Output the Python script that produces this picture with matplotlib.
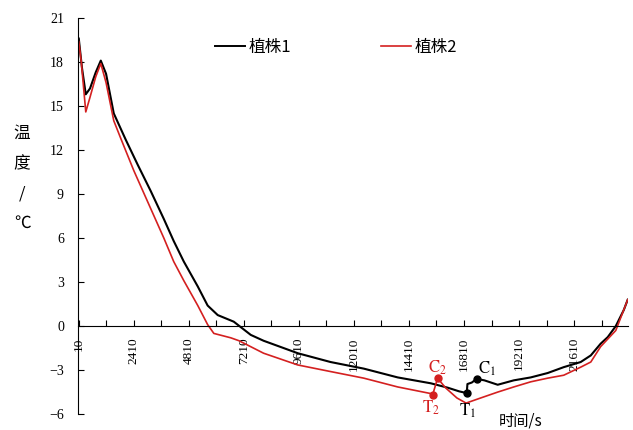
import matplotlib
matplotlib.use("Agg")
import matplotlib.pyplot as plt
from matplotlib.lines import Line2D

plt.rcParams['font.family'] = ['Noto Sans CJK SC', 'DejaVu Sans']
plt.rcParams['mathtext.fontset'] = 'stix'

# 时间 (s) 与温度 (℃)
t1 = [10, 150, 315, 500, 750, 970, 1200, 1536, 2060, 2580, 3150, 3720, 4150, 4590,
      5200, 5630, 6070, 6770, 7510, 8070, 9560, 10990, 12440, 13920, 15360, 16100,
      16600, 16930, 16960, 17150, 17360, 17700, 18280, 18980, 19720, 20460, 21160,
      21900, 22340, 22770, 23080, 23430, 23780, 23950]
y1 = [19.6, 17.6, 15.8, 16.2, 17.3, 18.1, 17.2, 14.5, 12.7, 11.0, 9.2, 7.3, 5.8,
      4.4, 2.7, 1.4, 0.75, 0.3, -0.6, -1.0, -1.85, -2.45, -2.9, -3.5, -3.9, -4.2,
      -4.45, -4.57, -3.95, -3.85, -3.6, -3.7, -4.0, -3.7, -3.5, -3.2, -2.8, -2.45,
      -2.0, -1.2, -0.75, 0.0, 1.1, 1.8]

t2 = [10, 120, 315, 500, 750, 970, 1200, 1536, 1840, 2410, 3150, 3720, 4150, 4590,
      5200, 5630, 5900, 6640, 7000, 8070, 9560, 10990, 12440, 13920, 15360, 15440,
      15660, 16000, 16500, 16900, 17540, 18280, 18980, 19720, 20460, 21160, 21900,
      22340, 22770, 23430, 23950]
y2 = [19.4, 18.0, 14.6, 15.6, 17.0, 17.9, 16.6, 14.0, 12.8, 10.6, 8.0, 6.0, 4.4,
      3.1, 1.4, 0.1, -0.5, -0.8, -1.0, -1.85, -2.65, -3.1, -3.55, -4.15, -4.6,
      -4.7, -3.55, -4.2, -4.9, -5.25, -4.9, -4.5, -4.15, -3.8, -3.55, -3.35, -2.8,
      -2.45, -1.4, -0.3, 1.8]

# 标记点
marks1 = {'T$_1$': (16930, -4.57), 'C$_1$': (17360, -3.6)}
marks2 = {'T$_2$': (15440, -4.7), 'C$_2$': (15660, -3.55)}

xticks = list(range(10, 23000, 1200))
yticks = list(range(-6, 22, 3))

red = '#d42020'

fig = plt.figure(figsize=(6.33, 4.3), dpi=100)
ax = fig.add_axes([0.123, 0.037, 0.869, 0.921])
ax.plot(t1, y1, color='black', lw=1.5)
ax.plot(t2, y2, color=red, lw=1.2)

for (lab, (x, y)) in marks1.items():
    ax.plot(x, y, 'o', color='black', ms=5)
for (lab, (x, y)) in marks2.items():
    ax.plot(x, y, 'o', color=red, ms=5)

ax.text(marks1['T$_1$'][0] + 50, marks1['T$_1$'][1] - 0.6, 'T$_1$', ha='center', va='top',
        fontsize=12, family='STIXGeneral', color='black')
ax.text(marks1['C$_1$'][0] + 50, marks1['C$_1$'][1] + 0.05, 'C$_1$', ha='left', va='bottom',
        fontsize=12, family='STIXGeneral', color='black')
ax.text(marks2['T$_2$'][0] - 80, marks2['T$_2$'][1] - 0.25, 'T$_2$', ha='center', va='top',
        fontsize=12, family='STIXGeneral', color=red)
ax.text(marks2['C$_2$'][0], marks2['C$_2$'][1] + 0.1, 'C$_2$', ha='center', va='bottom',
        fontsize=12, family='STIXGeneral', color=red)

ax.set_xlim(-30, 23960)
ax.set_ylim(-6, 21)
ax.spines['top'].set_visible(False)
ax.spines['right'].set_visible(False)
ax.spines['bottom'].set_position(('data', 0))
ax.spines['left'].set_bounds(-6, 21)

ax.set_xticks(xticks)
ax.set_xticklabels([str(v) if i % 2 == 0 else '' for i, v in enumerate(xticks)],
                   rotation=90, family='Liberation Serif', fontsize=9.5)
ax.set_yticks(yticks)
ax.set_yticklabels([str(v).replace('-', '−') for v in yticks], family='Liberation Serif', fontsize=10)
ax.tick_params(axis='x', direction='in', length=4, pad=8)
ax.tick_params(axis='y', direction='in', length=4, pad=10)

handles = [Line2D([], [], color='black', lw=1.4), Line2D([], [], color=red, lw=1.2)]
ax.legend(handles, ['植株1', '植株2'], loc='upper left', bbox_to_anchor=(0.249, 0.947),
          ncol=2, frameon=False, handlelength=1.8, handletextpad=0.2, columnspacing=5.4,
          fontsize=12, borderpad=0, borderaxespad=0)

fig.text(0.035, 0.46, '温\n度\n/\n℃', fontsize=12, ha='center', va='bottom', linespacing=2.0)
fig.text(0.822, 0.02, '时间/s', fontsize=11, ha='center', va='center')

fig.savefig('out.png', dpi=100)
